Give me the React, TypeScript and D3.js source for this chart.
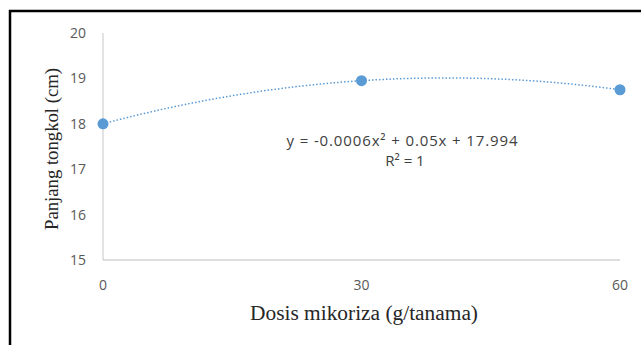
import React, { useEffect, useRef } from "react";
import * as d3 from "d3";

// dosis mikoriza (g/tanaman) and panjang tongkol (cm)
const doses = [0, 30, 60];
const lengths = [18.0, 18.95, 18.75];
const yTicks = [15, 16, 17, 18, 19, 20];
const xTicks = [0, 30, 60];
const equationText = "y = -0.0006x² + 0.05x + 17.994";
const r2Text = "R² = 1";

const W = 641;
const H = 345;

// quadratic trendline through the observed points (Lagrange form)
const trend = (x: number) =>
  doses.reduce((sum, xi, i) => {
    let term = lengths[i];
    doses.forEach((xj, j) => {
      if (j !== i) term *= (x - xj) / (xi - xj);
    });
    return sum + term;
  }, 0);

const App = () => {
  const svgRef = useRef<SVGSVGElement>(null);

  useEffect(() => {
    const svg = d3.select(svgRef.current);
    svg.selectAll("*").remove();

    const margin = { top: 33, right: 21, bottom: 85, left: 103 };
    const sans = "'Open Sans', 'Liberation Sans', sans-serif";
    const serif = "'Liberation Serif', 'Times New Roman', serif";

    const x = d3
      .scaleLinear()
      .domain([0, 60])
      .range([margin.left, W - margin.right]);

    const y = d3
      .scaleLinear()
      .domain([15, 20])
      .range([H - margin.bottom, margin.top]);

    // outer frame (cropped at right and bottom)
    svg
      .append("path")
      .attr("d", `M10,${H} L10,11 L${W},11`)
      .attr("fill", "none")
      .attr("stroke", "#000")
      .attr("stroke-width", 2.5);

    // axes lines
    svg
      .append("line")
      .attr("x1", x(0))
      .attr("x2", x(0))
      .attr("y1", y(20))
      .attr("y2", y(15))
      .attr("stroke", "#d0d0d0")
      .attr("stroke-width", 1.2);

    svg
      .append("line")
      .attr("x1", x(0))
      .attr("x2", x(60))
      .attr("y1", y(15))
      .attr("y2", y(15))
      .attr("stroke", "#bdbdbd")
      .attr("stroke-width", 1.2);

    // y tick labels
    svg
      .append("g")
      .selectAll("text")
      .data(yTicks)
      .join("text")
      .attr("x", 86)
      .attr("y", (d) => y(d))
      .attr("dy", "0.35em")
      .attr("text-anchor", "end")
      .attr("font-family", sans)
      .attr("font-size", 14)
      .attr("fill", "#595959")
      .text((d) => d);

    // x tick labels
    svg
      .append("g")
      .selectAll("text")
      .data(xTicks)
      .join("text")
      .attr("x", (d) => x(d))
      .attr("y", 285)
      .attr("dy", "0.35em")
      .attr("text-anchor", "middle")
      .attr("font-family", sans)
      .attr("font-size", 14)
      .attr("fill", "#595959")
      .text((d) => d);

    // trendline
    const line = d3
      .line<number>()
      .x((d) => x(d))
      .y((d) => y(trend(d)))
      .curve(d3.curveBasis);

    svg
      .append("path")
      .datum(x.ticks(60))
      .attr("d", line)
      .attr("fill", "none")
      .attr("stroke", "#5b9bd5")
      .attr("stroke-width", 1.5)
      .attr("stroke-dasharray", "1.5,2");

    // data points
    svg
      .append("g")
      .selectAll("circle")
      .data(doses)
      .join("circle")
      .attr("cx", (d) => x(d))
      .attr("cy", (d, i) => y(lengths[i]))
      .attr("r", 5.5)
      .attr("fill", "#5b9bd5");

    // equation
    svg
      .append("text")
      .attr("x", 402)
      .attr("y", 146)
      .attr("text-anchor", "middle")
      .attr("font-family", sans)
      .attr("font-size", 15)
      .attr("textLength", 231)
      .attr("lengthAdjust", "spacing")
      .attr("fill", "#404040")
      .text(equationText);

    svg
      .append("text")
      .attr("x", 405)
      .attr("y", 166)
      .attr("text-anchor", "middle")
      .attr("font-family", sans)
      .attr("font-size", 15)
      .attr("fill", "#404040")
      .text(r2Text);

    // axis titles
    svg
      .append("text")
      .attr("x", 364)
      .attr("y", 320)
      .attr("text-anchor", "middle")
      .attr("font-family", serif)
      .attr("font-size", 20)
      .attr("textLength", 228)
      .attr("lengthAdjust", "spacingAndGlyphs")
      .attr("fill", "#262626")
      .text("Dosis mikoriza (g/tanama)");

    svg
      .append("text")
      .attr("transform", "rotate(-90)")
      .attr("x", -149)
      .attr("y", 58)
      .attr("text-anchor", "middle")
      .attr("font-family", serif)
      .attr("font-size", 19)
      .attr("textLength", 162)
      .attr("lengthAdjust", "spacingAndGlyphs")
      .attr("fill", "#262626")
      .text("Panjang tongkol (cm)");
  }, []);

  return (
    <svg
      ref={svgRef}
      width={W}
      height={H}
      style={{ position: "absolute", left: 0, top: 0, background: "#fff" }}
    ></svg>
  );
};

export default App;
